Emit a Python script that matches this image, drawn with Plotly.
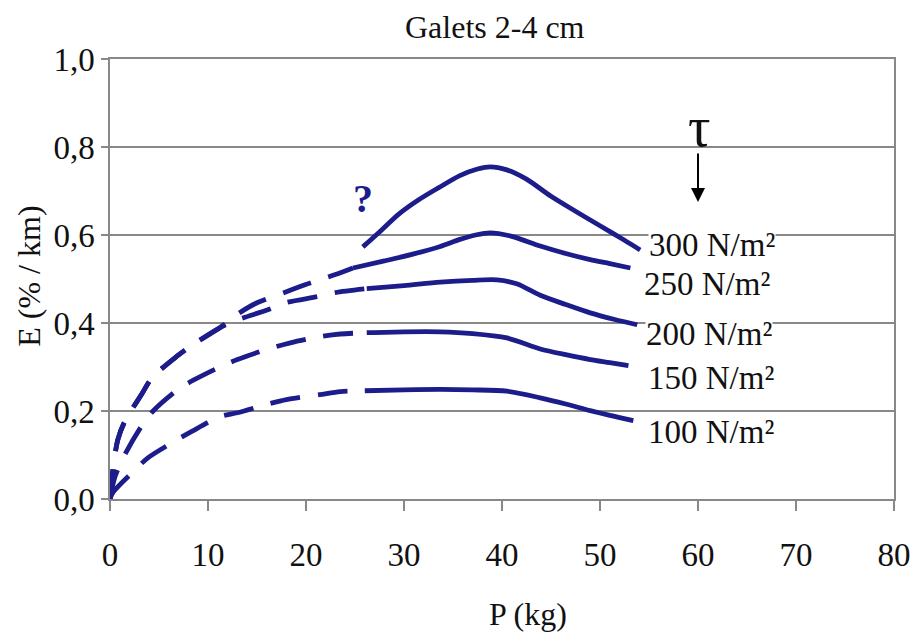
import plotly.graph_objects as go

# tau = 300 N/m2 (solid part only)
x300 = [25.8, 27.5, 29.5, 31.5, 33.5, 35.7, 37.5, 38.8, 40.5, 42.5, 45, 47.5, 50, 52.5, 54.1]
y300 = [0.573, 0.607, 0.648, 0.680, 0.707, 0.735, 0.750, 0.755, 0.748, 0.727, 0.688, 0.654, 0.621, 0.588, 0.566]

# tau = 250 N/m2
x250_dash = [0, 0.3, 0.8, 1.5, 3.2, 4.3, 6.8, 8.4, 11.2, 13, 15, 18, 19.9, 23, 24.8]
y250_dash = [0, 0.067, 0.135, 0.176, 0.237, 0.276, 0.324, 0.35, 0.389, 0.42, 0.446, 0.471, 0.487, 0.51, 0.525]
x250 = [24.8, 28, 31, 33.7, 35.7, 37.3, 38.8, 41, 43.9, 46.5, 49, 51, 53.1]
y250 = [0.525, 0.541, 0.557, 0.574, 0.590, 0.600, 0.605, 0.597, 0.575, 0.558, 0.544, 0.535, 0.525]

# tau = 200 N/m2
x200_dash = [0, 0.3, 0.8, 1.5, 3.2, 4.3, 6.8, 8.4, 11.2, 13, 16.1, 17.9, 21.2, 23, 26.2]
y200_dash = [0, 0.067, 0.135, 0.176, 0.237, 0.276, 0.324, 0.35, 0.389, 0.407, 0.43, 0.446, 0.46, 0.469, 0.478]
x200 = [26.2, 30, 33.7, 37, 39.5, 41.5, 43.9, 46.5, 49, 51.5, 53.8]
y200 = [0.478, 0.485, 0.493, 0.497, 0.498, 0.489, 0.463, 0.442, 0.423, 0.408, 0.396]

# tau = 150 N/m2
x150_dash = [0, 0.5, 1.5, 3.2, 4.4, 7, 8.5, 11.2, 13, 16, 18.4, 21.4, 23.5, 26.2]
y150_dash = [0, 0.05, 0.10, 0.165, 0.20, 0.25, 0.27, 0.30, 0.317, 0.34, 0.355, 0.369, 0.375, 0.378]
x150 = [26.2, 30, 33.7, 37, 40.5, 43.9, 46.5, 49, 51, 52.9]
y150 = [0.378, 0.38, 0.38, 0.376, 0.366, 0.341, 0.328, 0.317, 0.31, 0.303]

# tau = 100 N/m2
x100_dash = [0, 0.3, 2.4, 3.9, 6.5, 8.3, 11.2, 13, 16, 18, 21.4, 23.5, 26]
y100_dash = [0, 0.015, 0.063, 0.094, 0.13, 0.153, 0.187, 0.196, 0.215, 0.226, 0.237, 0.244, 0.246]
x100 = [26, 30, 33.7, 37, 40.5, 43.9, 46.5, 49, 51, 53.4]
y100 = [0.246, 0.248, 0.249, 0.248, 0.245, 0.23, 0.216, 0.201, 0.19, 0.178]

labels = ["300 N/m²", "250 N/m²", "200 N/m²", "150 N/m²", "100 N/m²"]
label_x = [54.9, 54.4, 54.6, 54.8, 54.8]
label_y = [0.578, 0.489, 0.376, 0.276, 0.153]

xticks = [0, 10, 20, 30, 40, 50, 60, 70, 80]
yticks = [0.0, 0.2, 0.4, 0.6, 0.8, 1.0]
yticktext = ["0,0", "0,2", "0,4", "0,6", "0,8", "1,0"]

blue = "#1c1c8a"
serif = "Liberation Serif"

fig = go.Figure()

solid = [(x300, y300), (x250, y250), (x200, y200), (x150, y150), (x100, y100)]
dashed = [(x250_dash, y250_dash), (x200_dash, y200_dash), (x150_dash, y150_dash), (x100_dash, y100_dash)]

for xs, ys in dashed:
    fig.add_trace(go.Scatter(x=xs, y=ys, mode="lines",
                             line=dict(color=blue, width=4.8, dash="30px,18px", shape="spline", smoothing=0.8),
                             showlegend=False, hoverinfo="skip"))
for xs, ys in solid:
    fig.add_trace(go.Scatter(x=xs, y=ys, mode="lines",
                             line=dict(color=blue, width=4.8, shape="spline", smoothing=0.8),
                             showlegend=False, hoverinfo="skip"))

for t, lx, ly in zip(labels, label_x, label_y):
    fig.add_annotation(x=lx, y=ly, text=t, showarrow=False, xanchor="left", yanchor="middle",
                       font=dict(family=serif, size=33, color="#111"), bgcolor="white", borderpad=0)

# tau arrow
fig.add_annotation(x=60, y=0.675, ax=0, ay=-50, text="", showarrow=True,
                   arrowhead=2, arrowsize=1.4, arrowwidth=2, arrowcolor="black")
fig.add_annotation(x=60.2, y=0.845, text="τ", showarrow=False,
                   font=dict(family=serif, size=56, color="#111"))
fig.add_annotation(x=25.8, y=0.684, text="<b>?</b>", showarrow=False,
                   font=dict(family=serif, size=40, color=blue))

# titles, placed by pixel position
L, R, T, B = 110, 23, 59, 139.5
W, H = 917, 639
pw, ph = W - L - R, H - T - B
titles = [("Galets 2-4 cm", 495, 27, 0), ("P (kg)", 528, 615, 0), ("E (% / km)", 29, 277, -90)]
for txt, px, py, ang in titles:
    fig.add_annotation(x=(px - L) / pw, y=(H - B - py) / ph, xref="paper", yref="paper",
                       xanchor="center", yanchor="middle", text=txt, showarrow=False,
                       textangle=ang, font=dict(family=serif, size=32, color="#111"))

fig.update_layout(
    width=W, height=H,
    margin=dict(l=L, r=R, t=T, b=B, autoexpand=False),
    plot_bgcolor="white", paper_bgcolor="white",
    font=dict(family=serif, size=32, color="#111"),
)
fig.update_xaxes(range=[0, 80], tickvals=xticks, showgrid=False, zeroline=False, automargin=False,
                 showline=True, linecolor="#888", linewidth=1.5, mirror=True,
                 ticks="outside", ticklen=10, tickcolor="#888", tickwidth=1.5,
                 ticklabelstandoff=16, tickfont=dict(family=serif, size=33, color="#111"))
fig.update_yaxes(range=[0, 1.0], tickvals=yticks, ticktext=yticktext, showgrid=True, automargin=False,
                 gridcolor="#888", gridwidth=1.5, zeroline=False,
                 showline=True, linecolor="#888", linewidth=1.5, mirror=True,
                 ticks="outside", ticklen=7, tickcolor="#888", tickwidth=1.5,
                 tickfont=dict(family=serif, size=33, color="#111"))

fig.write_html("out.html", config={"displayModeBar": False},
               post_script="document.body.style.margin='0px';")
